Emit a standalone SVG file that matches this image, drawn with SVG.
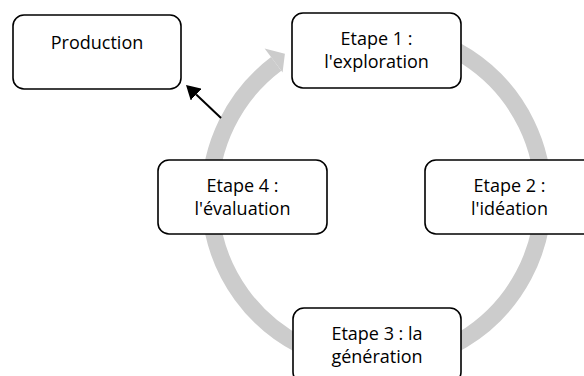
<svg xmlns="http://www.w3.org/2000/svg" width="584" height="376" viewBox="0 0 584 376">
  <style>
    .box { fill: #ffffff; stroke: #000000; stroke-width: 1.6; }
    .lbl { font-family: "Open Sans", "Liberation Sans", sans-serif; font-size: 18px; fill: #000000; text-anchor: middle; }
    .ring { fill: none; stroke: #cccccc; stroke-width: 17; }
    .head { fill: #cccccc; }
    .arrow { fill: none; stroke: #000000; stroke-width: 2; }
  </style>
  <defs>
    <marker id="blackHead" viewBox="0 0 14 16" refX="0" refY="8" markerWidth="14" markerHeight="16" markerUnits="userSpaceOnUse" orient="auto">
      <path d="M0,0 L14,8 L0,16 Z" fill="#000000"/>
    </marker>
  </defs>
  <rect width="584" height="376" fill="#ffffff"/>
  <g id="connectors">
    <path class="ring" d="M306.05,45.92 A166.7,166.7 0 1 1 276.18,63.87"/>
    <polygon class="head" points="264.6,48.5 284.9,53.8 282.6,72.4"/>
    <line class="arrow" x1="221" y1="118" x2="196.2" y2="94.6" marker-end="url(#blackHead)"/>
  </g>
  <g id="production">
    <rect class="box" x="13" y="15" width="168" height="74" rx="11"/>
    <text class="lbl" x="97" y="49">Production</text>
  </g>
  <g id="etape1">
    <rect class="box" x="292" y="13" width="169" height="75" rx="11"/>
    <text class="lbl" x="376.5" y="45">Etape 1 :</text>
    <text class="lbl" x="376.5" y="68">l'exploration</text>
  </g>
  <g id="etape2">
    <rect class="box" x="425" y="160" width="169" height="74" rx="11"/>
    <text class="lbl" x="509.5" y="192">Etape 2 :</text>
    <text class="lbl" x="509.5" y="215">l'idéation</text>
  </g>
  <g id="etape3">
    <rect class="box" x="293" y="308" width="168" height="75" rx="11"/>
    <text class="lbl" x="377" y="340">Etape 3 : la</text>
    <text class="lbl" x="377" y="363">génération</text>
  </g>
  <g id="etape4">
    <rect class="box" x="158" y="160" width="169" height="74" rx="11"/>
    <text class="lbl" x="242.5" y="192">Etape 4 :</text>
    <text class="lbl" x="242.5" y="215">l'évaluation</text>
  </g>
</svg>
